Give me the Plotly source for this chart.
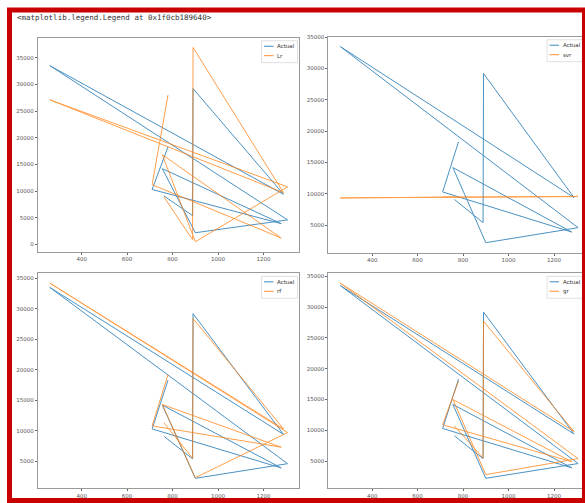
import plotly.graph_objects as go

# ---- data ----
x_vals = [780, 710, 1278, 755, 900, 1306, 260, 1288, 890, 888, 762]
actual = [18300, 10300, 3900, 14200, 2200, 4600, 33500, 9400, 29200, 5400, 9100]
lr     = [28000, 11200, 1200, 16800, 500, 10800, 27100, 9700, 36900, 900, 8900]
svr    = [9500, 9450, 9550, 9480, 9520, 9600, 9350, 9580, 9500, 9480, 9470]
rf     = [19200, 10800, 7300, 14300, 2300, 9700, 34200, 10300, 28400, 5500, 11300]
gr     = [18000, 10900, 4900, 15000, 2800, 5400, 33900, 9800, 27700, 5500, 10700]

model_names = ["Lr", "svr", "rf", "gr"]
model_preds = [lr, svr, rf, gr]
header_text = "<matplotlib.legend.Legend at 0x1f0cb189640>"

W, H = 585, 503
BLUE = "#1f77b4"
ORANGE = "#ff7f0e"
SPINE = "#9a9a9a"

def px(v):
    return v / W

def py(v):
    return 1 - v / H

# frames in pixel coordinates: (left, top, right_full, bottom)
frames = [
    (38, 35, 300, 250),
    (329, 34, 591, 251),
    (38, 272, 300, 488),
    (329, 272, 591, 488),
]

fig = go.Figure()
shapes = []
annotations = []

xmin, xmax = min(x_vals), max(x_vals)
dx = xmax - xmin

for i, (name, pred) in enumerate(zip(model_names, model_preds)):
    n = "" if i == 0 else str(i + 1)
    xa, ya = "x" + n, "y" + n
    fig.add_trace(go.Scatter(x=x_vals, y=actual, mode="lines", name="Actual",
                             line=dict(color=BLUE, width=1), opacity=0.8,
                             xaxis=xa, yaxis=ya, showlegend=False))
    fig.add_trace(go.Scatter(x=x_vals, y=pred, mode="lines", name=name,
                             line=dict(color=ORANGE, width=1), opacity=0.75,
                             xaxis=xa, yaxis=ya, showlegend=False))

    l, t, r_full, b = frames[i]
    r_vis = min(r_full, W)
    full_w = r_full - l
    x0 = xmin - 0.05 * dx
    x1_full = xmax + 0.05 * dx
    x1 = x0 + (x1_full - x0) * (r_vis - l) / full_w

    ally = actual + pred
    ymin, ymax = min(ally), max(ally)
    dy = ymax - ymin
    y0, y1 = ymin - 0.05 * dy, ymax + 0.05 * dy

    common = dict(showgrid=False, zeroline=False, showline=True, mirror=True,
                  linecolor=SPINE, linewidth=1, ticks="outside", ticklen=2,
                  tickwidth=0.8, tickcolor="#666",
                  tickfont=dict(family="DejaVu Sans", size=5.5, color="#555"))
    fig.layout["xaxis" + n] = dict(domain=[px(l), px(r_vis)], range=[x0, x1],
                                  anchor=ya, tick0=0, dtick=200, tickformat="d",
                                  **common)
    fig.layout["yaxis" + n] = dict(domain=[py(b), py(t)], range=[y0, y1],
                                  anchor=xa, tick0=0, dtick=5000, tickformat="d",
                                  **common)

    # legend box at the top-right inside of each axes
    lb_r = min(r_full - 2, 584)
    lb_l = lb_r - 36
    lb_t = t + 3
    lb_b = lb_t + 22
    shapes.append(dict(type="rect", xref="paper", yref="paper",
                       x0=px(lb_l), x1=px(lb_r), y0=py(lb_b), y1=py(lb_t),
                       line=dict(color="#d8d8d8", width=0.8),
                       fillcolor="rgba(255,255,255,0.85)", layer="above"))
    for k, (lab, col) in enumerate([("Actual", BLUE), (name, ORANGE)]):
        yy = lb_t + 5.5 + k * 9.5
        shapes.append(dict(type="line", xref="paper", yref="paper",
                           x0=px(lb_l + 2.5), x1=px(lb_l + 12), y0=py(yy), y1=py(yy),
                           line=dict(color=col, width=1), opacity=0.85, layer="above"))
        annotations.append(dict(text=lab, xref="paper", yref="paper",
                                x=px(lb_l + 13.5), y=py(yy), xanchor="left",
                                yanchor="middle", showarrow=False,
                                font=dict(family="DejaVu Sans", size=5.5, color="#333")))

annotations.append(dict(text=header_text.replace("<", "&lt;").replace(">", "&gt;"),
                        xref="paper", yref="paper", x=px(15), y=py(15),
                        xanchor="left", yanchor="middle", showarrow=False,
                        font=dict(family="DejaVu Sans Mono", size=7.5, color="#333")))

# red frame around the whole picture
shapes.append(dict(type="rect", xref="paper", yref="paper",
                   x0=px(9.5), x1=px(585.5), y0=py(500.5), y1=py(7),
                   line=dict(color="#c80000", width=5), layer="above"))

fig.update_layout(width=W, height=H, margin=dict(l=0, r=0, t=0, b=0),
                  paper_bgcolor="white", plot_bgcolor="white",
                  shapes=shapes, annotations=annotations, showlegend=False)

fig.write_html("out.html", config={"displayModeBar": False},
               post_script="document.body.style.margin='0';document.body.style.padding='0';document.body.style.overflow='hidden';")
